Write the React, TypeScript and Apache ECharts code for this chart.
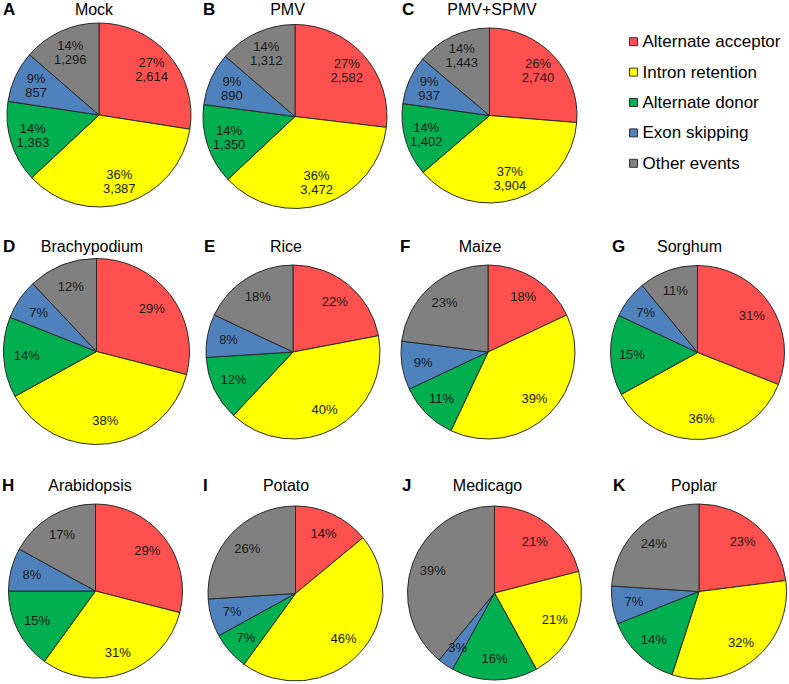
import React, { useEffect, useRef } from 'react';
import * as echarts from 'echarts';

const categories = ['Alternate acceptor', 'Intron retention', 'Alternate donor', 'Exon skipping', 'Other events'];
const colors = ['#FF5050', '#FFFF00', '#00B050', '#4F81BD', '#808080'];

// Top row: event counts and the percentages printed on the slices
const mockCounts = [2614, 3387, 1363, 857, 1296];
const mockPct = [27, 36, 14, 9, 14];
const pmvCounts = [2582, 3472, 1350, 890, 1312];
const pmvPct = [27, 36, 14, 9, 14];
const pmvSpmvCounts = [2740, 3904, 1402, 937, 1443];
const pmvSpmvPct = [26, 37, 14, 9, 14];

// Species: percentages
const brachypodiumPct = [29, 38, 14, 7, 12];
const ricePct = [22, 40, 12, 8, 18];
const maizePct = [18, 39, 11, 9, 23];
const sorghumPct = [31, 36, 15, 7, 11];
const arabidopsisPct = [29, 31, 15, 8, 17];
const potatoPct = [14, 46, 7, 7, 26];
const medicagoPct = [21, 21, 16, 3, 39];
const poplarPct = [23, 32, 14, 7, 24];

const panelLetters = ['A', 'B', 'C', 'D', 'E', 'F', 'G', 'H', 'I', 'J', 'K'];
const panelTitles = ['Mock', 'PMV', 'PMV+SPMV', 'Brachypodium', 'Rice', 'Maize', 'Sorghum', 'Arabidopsis', 'Potato', 'Medicago', 'Poplar'];

const FONT = '"Liberation Sans", Arial, Helvetica, sans-serif';

export default function App() {
  const ref = useRef<HTMLDivElement>(null);

  useEffect(() => {
    if (!ref.current) return;
    const chart = echarts.init(ref.current, null, { renderer: 'svg' });

    const panelValues: number[][] = [
      mockCounts, pmvCounts, pmvSpmvCounts,
      brachypodiumPct, ricePct, maizePct, sorghumPct,
      arabidopsisPct, potatoPct, medicagoPct, poplarPct,
    ];
    const panelPct: (number[] | null)[] = [
      mockPct, pmvPct, pmvSpmvPct,
      null, null, null, null, null, null, null, null,
    ];

    // layout: pie center x, center y, radius, letter x, title center x, title y
    const layout = [
      { cx: 99, cy: 115, r: 92, lx: 3, tx: 94, ty: 9.5 },
      { cx: 295, cy: 116.5, r: 92, lx: 203, tx: 287.5, ty: 9.5 },
      { cx: 489.5, cy: 115.5, r: 87.5, lx: 402, tx: 492, ty: 9.5 },
      { cx: 96.5, cy: 351.5, r: 93, lx: 3, tx: 92, ty: 246 },
      { cx: 293, cy: 352, r: 87, lx: 204, tx: 286, ty: 246 },
      { cx: 488, cy: 352, r: 87, lx: 400, tx: 480, ty: 246 },
      { cx: 697.5, cy: 352.5, r: 87, lx: 612, tx: 689.5, ty: 246 },
      { cx: 95.5, cy: 591, r: 87, lx: 2, tx: 90, ty: 485 },
      { cx: 295.5, cy: 593.5, r: 87.5, lx: 203, tx: 286, ty: 485.5 },
      { cx: 494.5, cy: 593, r: 87, lx: 402, tx: 487.5, ty: 485.5 },
      { cx: 699, cy: 591.5, r: 87.5, lx: 613, tx: 694, ty: 485.5 },
    ];

    const visualSeries: any[] = [];
    const labelSeries: any[] = [];
    const graphics: any[] = [];

    panelValues.forEach((vals, p) => {
      const L = layout[p];
      const data = categories.map((name, i) => ({
        name,
        value: vals[i],
        itemStyle: { color: colors[i] },
      }));
      visualSeries.push({
        type: 'pie',
        center: [L.cx, L.cy],
        radius: [0, L.r],
        startAngle: 90,
        clockwise: true,
        silent: true,
        avoidLabelOverlap: false,
        label: { show: false },
        labelLine: { show: false },
        itemStyle: { borderColor: '#2a2a2a', borderWidth: 1 },
        emphasis: { disabled: true },
        data,
      });
      const pct = panelPct[p];
      labelSeries.push({
        type: 'pie',
        center: [L.cx, L.cy],
        radius: [L.r * 0.44, L.r],
        startAngle: 90,
        clockwise: true,
        silent: true,
        avoidLabelOverlap: false,
        itemStyle: { color: 'rgba(0,0,0,0)', borderWidth: 0 },
        emphasis: { disabled: true },
        labelLine: { show: false },
        label: {
          show: true,
          position: 'inside',
          color: '#1a1a1a',
          fontSize: 13,
          lineHeight: 14,
          fontFamily: FONT,
          formatter: (params: any) => {
            const i = params.dataIndex;
            if (pct) {
              return `${pct[i]}%\n${vals[i].toLocaleString('en-US')}`;
            }
            return `${vals[i]}%`;
          },
        },
        data: categories.map((name, i) => ({ name, value: vals[i] })),
      });
      graphics.push({
        type: 'text',
        x: L.lx,
        y: L.ty,
        style: {
          text: panelLetters[p],
          fill: '#000',
          font: `bold 17px ${FONT}`,
          textAlign: 'left',
          textVerticalAlign: 'middle',
        },
      });
      graphics.push({
        type: 'text',
        x: L.tx,
        y: L.ty,
        style: {
          text: panelTitles[p],
          fill: '#000',
          font: `16px ${FONT}`,
          textAlign: 'center',
          textVerticalAlign: 'middle',
        },
      });
    });

    chart.setOption({
      animation: false,
      backgroundColor: '#ffffff',
      legend: {
        data: categories,
        orient: 'vertical',
        left: 629,
        top: 33.2,
        padding: 0,
        icon: 'rect',
        itemWidth: 8,
        itemHeight: 8,
        itemGap: 13.4,
        selectedMode: false,
        itemStyle: { borderColor: '#333', borderWidth: 1 },
        textStyle: { fontSize: 17, color: '#000', fontFamily: FONT },
      },
      graphic: graphics,
      series: [...visualSeries, ...labelSeries],
    });

    return () => chart.dispose();
  }, []);

  return (
    <div
      ref={ref}
      style={{ position: 'fixed', left: 0, top: 0, width: 789, height: 684 }}
    />
  );
}
